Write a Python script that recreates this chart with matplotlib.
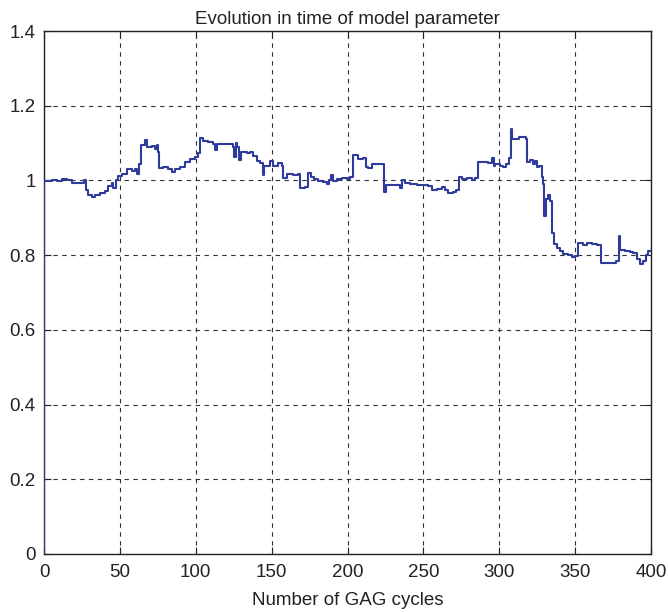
import matplotlib
matplotlib.use("Agg")
import matplotlib.pyplot as plt

plt.rcParams['font.family'] = ['Liberation Sans', 'DejaVu Sans']

# Parameter estimate after each GAG cycle (piecewise constant between updates)
cycles = [
    0, 0.3, 5, 8.3, 11.6, 15, 18.2, 21.5, 24.8, 26.4, 27.5, 29.2, 31.4, 33.6, 36.9,
    40.2, 42.4, 44.6, 45.7, 47.4, 49, 51.2, 54.5, 57.8, 60, 61.5, 62.6, 63.7, 66.6,
    67.7, 71, 73.1, 74.2, 75.3, 76, 78.6, 81.9, 84.1, 86.3, 89.6, 92.9, 96.2, 99.5,
    101.7, 102.8, 105, 108.3, 111.6, 112.7, 113.8, 118.2, 122.6, 124.3, 125.2,
    126.3, 127.4, 128.7, 129.6, 133.6, 135.7, 137.5, 140.1, 142.3, 144.1, 145,
    147.8, 148.9, 150.7, 154.4, 156.6, 157.7, 159.9, 164.3, 167.6, 168.7, 172,
    174.2, 175.7, 177.9, 180.8, 184.1, 186.3, 188.1, 188.9, 190.7, 192.9, 196.2,
    199.5, 201.6, 203.8, 207.1, 210.4, 212, 213.7, 215.9, 220.3, 223.6, 224.3,
    225.1, 230.2, 234.6, 235.9, 237.9, 241.2, 245.6, 250, 253.3, 255.5, 258.8,
    262.1, 264.3, 266.5, 269.8, 271.6, 273.3, 275.3, 278.6, 281.9, 284.1, 285.7,
    289.5, 292.8, 295, 296.5, 297.2, 300.5, 302.7, 304.4, 306.6, 307.7, 308.4,
    311.5, 313.2, 315.9, 317.6, 318.5, 320.2, 322, 323.6, 324.6, 326.4, 327.9,
    329, 329.7, 330.8, 332.3, 333.4, 334.5, 336, 337.8, 340, 342.2, 345.5, 347.7,
    349.9, 352.1, 355.4, 357.6, 360.9, 364.2, 366.8, 369.7, 374.1, 377, 378.7,
    379.6, 382.9, 386.2, 388.4, 390.6, 392.8, 395, 396.8, 398.3, 400,
]
param = [
    0.0, 0.998, 1.0, 0.998, 1.003, 1.0, 0.994, 0.993, 0.992, 1.001, 0.975, 0.96,
    0.957, 0.962, 0.967, 0.972, 0.985, 0.994, 0.98, 1.0, 1.012, 1.018, 1.03,
    1.024, 1.03, 1.018, 1.045, 1.095, 1.107, 1.09, 1.093, 1.085, 1.095, 1.075,
    1.033, 1.037, 1.03, 1.022, 1.03, 1.035, 1.05, 1.058, 1.064, 1.073, 1.113,
    1.105, 1.102, 1.098, 1.082, 1.097, 1.097, 1.097, 1.09, 1.064, 1.1, 1.09,
    1.055, 1.075, 1.073, 1.075, 1.065, 1.052, 1.048, 1.015, 1.038, 1.04, 1.052,
    1.04, 1.046, 1.04, 1.006, 1.016, 1.015, 1.016, 0.979, 0.982, 1.02, 1.008,
    1.004, 0.998, 0.997, 0.99, 1.002, 1.015, 0.998, 1.004, 1.006, 1.004, 1.01,
    1.069, 1.058, 1.06, 1.037, 1.033, 1.044, 1.045, 1.044, 0.97, 0.988, 0.988,
    0.98, 1.002, 0.993, 0.99, 0.989, 0.987, 0.985, 0.975, 0.977, 0.983, 0.975,
    0.966, 0.968, 0.975, 1.01, 1.004, 1.006, 1.0, 1.006, 1.05, 1.05, 1.048,
    1.06, 1.04, 1.045, 1.04, 1.035, 1.045, 1.06, 1.137, 1.11, 1.11, 1.117,
    1.115, 1.11, 1.05, 1.055, 1.045, 1.052, 1.035, 1.04, 1.01, 0.99, 0.904,
    0.95, 0.96, 0.945, 0.86, 0.83, 0.82, 0.81, 0.803, 0.8, 0.795, 0.797, 0.832,
    0.828, 0.832, 0.83, 0.826, 0.778, 0.78, 0.779, 0.785, 0.85, 0.815, 0.812,
    0.808, 0.806, 0.79, 0.776, 0.785, 0.8, 0.812, 0.812,
]

x_ticks = [0, 50, 100, 150, 200, 250, 300, 350, 400]
y_ticks = [0, 0.2, 0.4, 0.6, 0.8, 1.0, 1.2, 1.4]
y_tick_labels = ['0', '0.2', '0.4', '0.6', '0.8', '1', '1.2', '1.4']

fig = plt.figure(figsize=(6.68, 6.12), dpi=100)
ax = fig.add_axes([0.0659, 0.0948, 0.9087, 0.8545])

ax.plot(cycles, param, drawstyle='steps-post', color='#2e3a9c', linewidth=1.5,
        zorder=3)

ax.set_xlim(0, 400)
ax.set_ylim(0, 1.4)
ax.set_xticks(x_ticks)
ax.set_yticks(y_ticks)
ax.set_yticklabels(y_tick_labels)
ax.tick_params(direction='in', length=5, width=0.8, labelsize=13.5,
               top=True, right=True, colors='#222222')
ax.tick_params(axis='x', pad=7)
ax.tick_params(axis='y', pad=6)
ax.grid(True, linestyle=(0, (4, 4)), color='#333333', linewidth=0.8)
for s in ax.spines.values():
    s.set_linewidth(1.0)
    s.set_color('#222222')

ax.set_title('Evolution in time of model parameter', fontsize=13.5, pad=5, color='#222222')
ax.set_xlabel('Number of GAG cycles', fontsize=13.5, labelpad=8, color='#222222')

fig.savefig('out.png', dpi=100)
